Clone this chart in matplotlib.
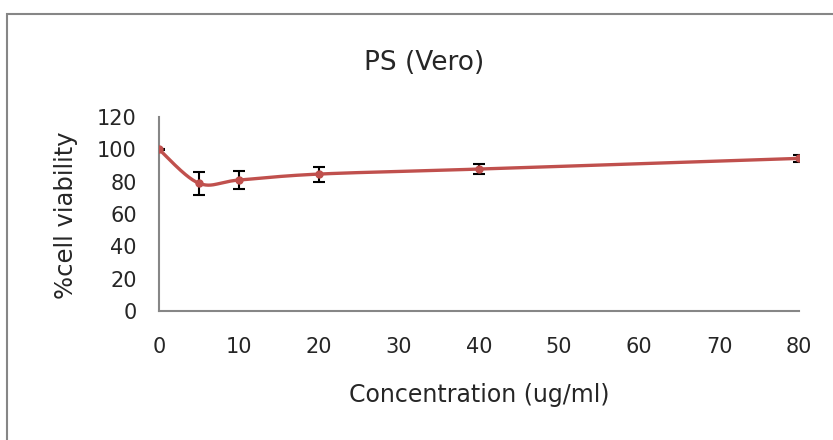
import numpy as np
import matplotlib
matplotlib.use("Agg")
import matplotlib.pyplot as plt
from matplotlib.patches import Rectangle

plt.rcParams['font.family'] = ['DejaVu Sans']

# data
conc = [0, 5, 10, 20, 40, 80]
viability = [100.0, 79.0, 81.0, 84.7, 87.8, 94.4]
sd = [0.5, 7.0, 5.8, 4.6, 3.0, 2.0]

title = "PS (Vero)"
x_label = "Concentration (ug/ml)"
y_label = "%cell viability"
x_ticks = [0, 10, 20, 30, 40, 50, 60, 70, 80]
y_ticks = [0, 20, 40, 60, 80, 100, 120]

line_col = "#C0504D"
axis_col = "#868686"
text_col = "#262626"


def excel_smooth(x, y, n=40):
    """Bezier smoothing similar to Excel's smoothed line"""
    pts = np.column_stack([x, y]).astype(float)
    out = [pts[0]]
    t = np.linspace(0, 1, n)[1:]
    for i in range(len(pts) - 1):
        p0 = pts[i]
        p3 = pts[i + 1]
        prev = pts[i - 1] if i > 0 else pts[i]
        nxt = pts[i + 2] if i + 2 < len(pts) else pts[i + 1]
        c1 = p0 + (p3 - prev) / 6.0
        c2 = p3 - (nxt - p0) / 6.0
        seg = ((1 - t) ** 3)[:, None] * p0 + (3 * (1 - t) ** 2 * t)[:, None] * c1 \
            + (3 * (1 - t) * t ** 2)[:, None] * c2 + (t ** 3)[:, None] * p3
        out.extend(seg)
    out = np.array(out)
    return out[:, 0], out[:, 1]


fig = plt.figure(figsize=(8.33, 4.40), dpi=100)
fig.patch.set_facecolor("white")

# chart border
fig.patches.append(Rectangle((7 / 833, -0.1), 1.2, (440 - 14) / 440 + 0.1,
                             transform=fig.transFigure, fill=False,
                             edgecolor=axis_col, linewidth=1.5))

ax = fig.add_axes([159 / 833, 1 - 311 / 440, 640 / 833, 194 / 440])

sx, sy = excel_smooth(conc, viability)
ax.plot(sx, sy, color=line_col, linewidth=2.4, solid_capstyle='round', zorder=3)
ax.errorbar(conc, viability, yerr=sd, fmt='none', ecolor='black',
            elinewidth=1.5, capsize=4, capthick=1.5, zorder=2)
ax.plot(conc, viability, 'o', color=line_col, markersize=5, zorder=4)

ax.set_xlim(0, 80)
ax.set_ylim(0, 120)
ax.set_xticks(x_ticks)
ax.set_yticks(y_ticks)
ax.tick_params(length=0, labelsize=15, colors=text_col)
ax.tick_params(axis='x', pad=19)
ax.tick_params(axis='y', pad=16)

for side in ['top', 'right']:
    ax.spines[side].set_visible(False)
for side in ['left', 'bottom']:
    ax.spines[side].set_color(axis_col)
    ax.spines[side].set_linewidth(1.5)

fig.text(424 / 833, 1 - 63 / 440, title, ha='center', va='center', fontsize=19, color=text_col)
fig.text(479 / 833, 1 - 395 / 440, x_label, ha='center', va='center', fontsize=17, color=text_col)
fig.text(66 / 833, 1 - 215 / 440, y_label, ha='center', va='center', rotation=90,
         fontsize=17.5, color=text_col)

fig.savefig("out.png", dpi=100)
